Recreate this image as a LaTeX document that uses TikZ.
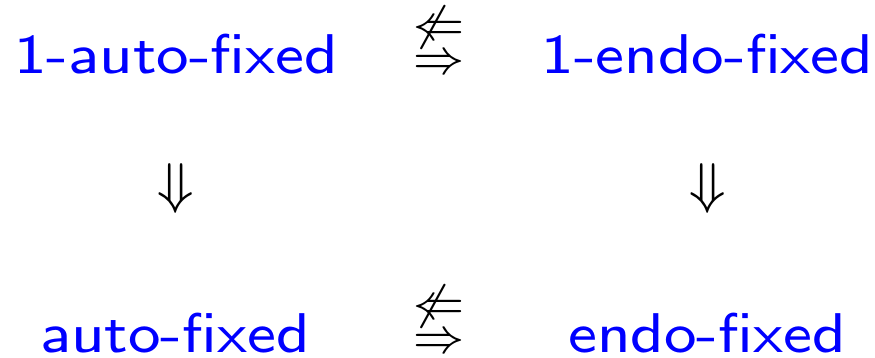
\documentclass[tikz,border=0pt]{standalone}
\usepackage{amssymb}
\newcommand{\myrelstack}{\rlap{\raisebox{5.6pt}{$\not\Leftarrow$}}$\Rightarrow$}
\begin{document}
\begin{tikzpicture}[x=1pt,y=-1pt,
  lbl/.style={inner sep=0pt, anchor=base, text=blue, xscale=7.65, yscale=7, font=\fontsize{8}{10}\selectfont\sffamily},
  rel/.style={inner sep=0pt, anchor=base, scale=6.0, font=\fontsize{8}{10}\selectfont},
  imp/.style={inner sep=0pt, anchor=base, scale=7, font=\fontsize{8}{10}\selectfont}]
\useasboundingbox (0,0) rectangle (875,357);
\node[lbl] (oa) at (176,73) {1-auto-fixed};
\node[lbl] (oe) at (707.5,73) {1-endo-fixed};
\node[lbl] (a) at (175,352) {auto-fixed};
\node[lbl] (e) at (707,352) {endo-fixed};
\node[rel] (r1) at (439,73) {\myrelstack};
\node[rel] (r2) at (439,352) {\myrelstack};
\node[imp] (d1) at (176,202) {$\Downarrow$};
\node[imp] (d2) at (708,202) {$\Downarrow$};
\end{tikzpicture}
\end{document}
